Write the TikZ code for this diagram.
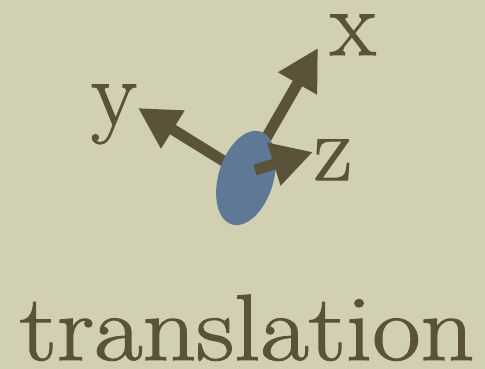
\documentclass[tikz,border=0pt]{standalone}
\usepackage{fontspec}
\newfontfamily\heavyserif[FakeBold=1.2,SizeFeatures={{Size={-}, Font=Latin Modern Roman}}]{Latin Modern Roman}
\usetikzlibrary{arrows.meta,shapes.geometric}
\definecolor{bgc}{RGB}{210,208,179}
\definecolor{ink}{RGB}{90,83,57}
\definecolor{disc}{RGB}{94,120,150}
\begin{document}
\begin{tikzpicture}[x=1pt,y=-1pt,
  axis/.style={ink,line width=11pt,-{Triangle[width=42pt,length=41pt]}},
  lbl/.style={ink,font=\heavyserif\fontsize{94}{94}\selectfont,inner sep=0pt,anchor=base}]
\fill[bgc] (0,0) rectangle (485,369);
\useasboundingbox (0,0) rectangle (485,369);
\coordinate (ystart) at (230,165);
\coordinate (ytip) at (138,108);
\coordinate (xstart) at (265,140);
\coordinate (xtip) at (318,48);
\coordinate (zstart) at (255,170);
\coordinate (ztip) at (313,152);
\draw[axis] (ystart) -- (ytip);
\draw[axis] (xstart) -- (xtip);
\node[draw=none,fill=disc,shape=ellipse,minimum width=55pt,minimum height=97pt,rotate=-17,inner sep=0pt] (disc) at (246,178) {};
\draw[axis] (zstart) -- (ztip);
\node[lbl] (lx) at (353,55) {x};
\node[lbl] (ly) at (114,125) {y};
\node[lbl] (lz) at (333,180) {z};
\node[lbl,xscale=1.12] (title) at (247,360) {translation};
\end{tikzpicture}
\end{document}
